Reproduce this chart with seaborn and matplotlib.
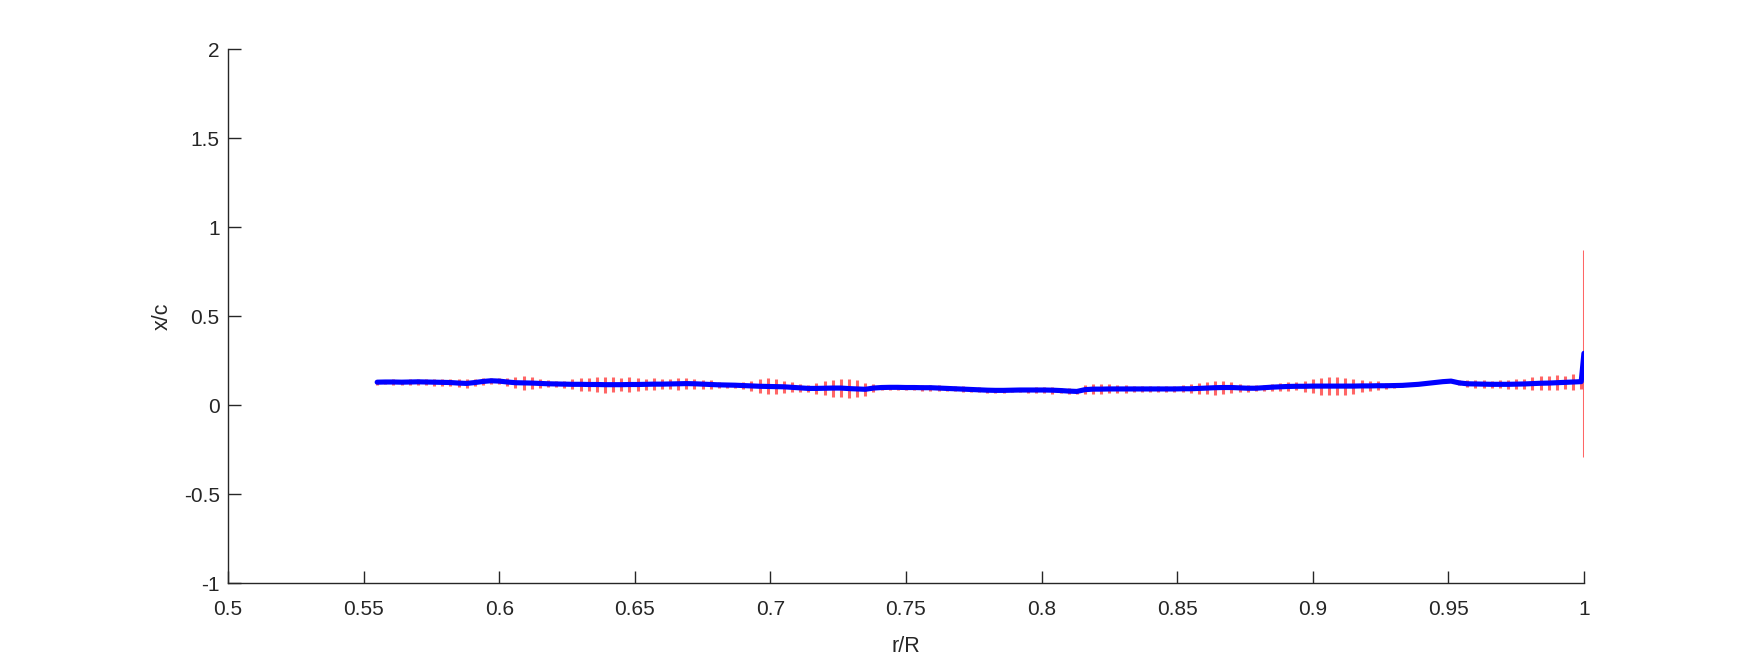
import numpy as np
import pandas as pd
import matplotlib
matplotlib.use("Agg")
import matplotlib.pyplot as plt
import seaborn as sns

# r/R positions of the measurement stations
r_R = [
    0.555, 0.558, 0.561, 0.564, 0.567, 0.570, 0.573, 0.576, 0.579, 0.582,
    0.585, 0.588, 0.591, 0.594, 0.597, 0.600, 0.603, 0.606, 0.609, 0.612,
    0.615, 0.618, 0.621, 0.624, 0.627, 0.630, 0.633, 0.636, 0.639, 0.642,
    0.645, 0.648, 0.651, 0.654, 0.657, 0.660, 0.663, 0.666, 0.669, 0.672,
    0.675, 0.678, 0.681, 0.684, 0.687, 0.690, 0.693, 0.696, 0.699, 0.702,
    0.705, 0.708, 0.711, 0.714, 0.717, 0.720, 0.723, 0.726, 0.729, 0.732,
    0.735, 0.738, 0.741, 0.744, 0.747, 0.750, 0.753, 0.756, 0.759, 0.762,
    0.765, 0.768, 0.771, 0.774, 0.777, 0.780, 0.783, 0.786, 0.789, 0.792,
    0.795, 0.798, 0.801, 0.804, 0.807, 0.810, 0.813, 0.816, 0.819, 0.822,
    0.825, 0.828, 0.831, 0.834, 0.837, 0.840, 0.843, 0.846, 0.849, 0.852,
    0.855, 0.858, 0.861, 0.864, 0.867, 0.870, 0.873, 0.876, 0.879, 0.882,
    0.885, 0.888, 0.891, 0.894, 0.897, 0.900, 0.903, 0.906, 0.909, 0.912,
    0.915, 0.918, 0.921, 0.924, 0.927, 0.930, 0.933, 0.936, 0.939, 0.942,
    0.945, 0.948, 0.951, 0.954, 0.957, 0.960, 0.963, 0.966, 0.969, 0.972,
    0.975, 0.978, 0.981, 0.984, 0.987, 0.990, 0.993, 0.996, 0.999, 1.000,
]

# mean x/c
x_c = [
    0.130, 0.131, 0.131, 0.130, 0.131, 0.132, 0.131, 0.130, 0.129, 0.128,
    0.125, 0.123, 0.128, 0.134, 0.138, 0.136, 0.131, 0.127, 0.126, 0.125,
    0.123, 0.121, 0.120, 0.119, 0.118, 0.118, 0.117, 0.117, 0.116, 0.116,
    0.116, 0.117, 0.117, 0.118, 0.119, 0.119, 0.120, 0.121, 0.122, 0.121,
    0.119, 0.117, 0.115, 0.114, 0.113, 0.111, 0.109, 0.107, 0.106, 0.105,
    0.104, 0.101, 0.098, 0.095, 0.095, 0.096, 0.097, 0.097, 0.094, 0.092,
    0.090, 0.097, 0.100, 0.101, 0.101, 0.100, 0.100, 0.099, 0.099, 0.097,
    0.095, 0.093, 0.091, 0.089, 0.087, 0.085, 0.084, 0.084, 0.085, 0.086,
    0.086, 0.086, 0.086, 0.085, 0.083, 0.080, 0.078, 0.088, 0.091, 0.091,
    0.092, 0.092, 0.092, 0.092, 0.092, 0.092, 0.092, 0.092, 0.092, 0.093,
    0.093, 0.095, 0.097, 0.099, 0.100, 0.100, 0.098, 0.096, 0.096, 0.099,
    0.102, 0.104, 0.106, 0.107, 0.107, 0.108, 0.108, 0.108, 0.108, 0.108,
    0.108, 0.109, 0.109, 0.110, 0.110, 0.111, 0.112, 0.115, 0.118, 0.123,
    0.128, 0.133, 0.136, 0.126, 0.121, 0.120, 0.119, 0.118, 0.118, 0.118,
    0.119, 0.120, 0.122, 0.124, 0.125, 0.127, 0.129, 0.131, 0.133, 0.292,
]

# spread (half height of error bar)
x_c_err = [
    0.015, 0.014, 0.016, 0.015, 0.017, 0.016, 0.018, 0.019, 0.018, 0.020,
    0.022, 0.024, 0.020, 0.019, 0.018, 0.017, 0.020, 0.032, 0.038, 0.034,
    0.024, 0.019, 0.018, 0.020, 0.028, 0.035, 0.038, 0.042, 0.044, 0.042,
    0.038, 0.041, 0.036, 0.030, 0.032, 0.028, 0.030, 0.033, 0.031, 0.028,
    0.026, 0.024, 0.016, 0.014, 0.015, 0.018, 0.030, 0.040, 0.045, 0.042,
    0.035, 0.028, 0.022, 0.020, 0.030, 0.040, 0.048, 0.052, 0.055, 0.048,
    0.035, 0.022, 0.016, 0.015, 0.014, 0.015, 0.016, 0.017, 0.016, 0.015,
    0.014, 0.013, 0.015, 0.016, 0.014, 0.013, 0.012, 0.013, 0.012, 0.013,
    0.014, 0.016, 0.018, 0.019, 0.016, 0.015, 0.014, 0.024, 0.028, 0.027,
    0.025, 0.022, 0.020, 0.019, 0.018, 0.019, 0.017, 0.016, 0.017, 0.019,
    0.024, 0.030, 0.036, 0.040, 0.038, 0.030, 0.022, 0.019, 0.017, 0.016,
    0.019, 0.022, 0.024, 0.022, 0.030, 0.040, 0.048, 0.052, 0.050, 0.048,
    0.042, 0.035, 0.030, 0.024, 0.018, 0.014, 0.008, 0.004, 0.004, 0.004,
    0.004, 0.004, 0.006, 0.014, 0.020, 0.022, 0.024, 0.019, 0.022, 0.026,
    0.028, 0.030, 0.035, 0.038, 0.040, 0.042, 0.038, 0.044, 0.040, 0.580,
]

x_ticks = [0.5, 0.55, 0.6, 0.65, 0.7, 0.75, 0.8, 0.85, 0.9, 0.95, 1]
x_tick_labels = ["0.5", "0.55", "0.6", "0.65", "0.7", "0.75", "0.8", "0.85", "0.9", "0.95", "1"]
y_ticks = [-1, -0.5, 0, 0.5, 1, 1.5, 2]
y_tick_labels = ["-1", "-0.5", "0", "0.5", "1", "1.5", "2"]

df = pd.DataFrame({"r/R": r_R, "x/c": x_c, "err": x_c_err})

sns.set_theme(style="ticks")
plt.rcParams["font.family"] = ["Liberation Sans", "DejaVu Sans"]

text_col = "#262626"
fig = plt.figure(figsize=(17.5, 6.56), dpi=100)
ax = fig.add_axes([0.1303, 0.1108, 0.7748, 0.814])

# red spread bars first, mean line on top
ax.errorbar(df["r/R"], df["x/c"], yerr=df["err"], fmt="none",
            ecolor=(1.0, 0.0, 0.0, 0.6), elinewidth=2.2, capsize=0, zorder=2)
sns.lineplot(data=df, x="r/R", y="x/c", color="#0000ff", linewidth=3.7,
             sort=False, ax=ax, zorder=3)

ax.set_xlim(0.5, 1)
ax.set_ylim(-1, 2)
ax.set_xticks(x_ticks)
ax.set_xticklabels(x_tick_labels)
ax.set_yticks(y_ticks)
ax.set_yticklabels(y_tick_labels)

for side in ["top", "right"]:
    ax.spines[side].set_visible(False)
for side in ["left", "bottom"]:
    ax.spines[side].set_color(text_col)
    ax.spines[side].set_linewidth(1.0)

ax.tick_params(direction="in", length=9, width=1.0, colors=text_col,
               labelsize=15)
ax.tick_params(axis="x", pad=12)
ax.tick_params(axis="y", pad=6)
ax.set_xlabel("r/R", fontsize=15.5, color=text_col, labelpad=12)
ax.set_ylabel("x/c", fontsize=15.5, color=text_col, labelpad=8)

fig.savefig("out.png", dpi=100, facecolor="white")
